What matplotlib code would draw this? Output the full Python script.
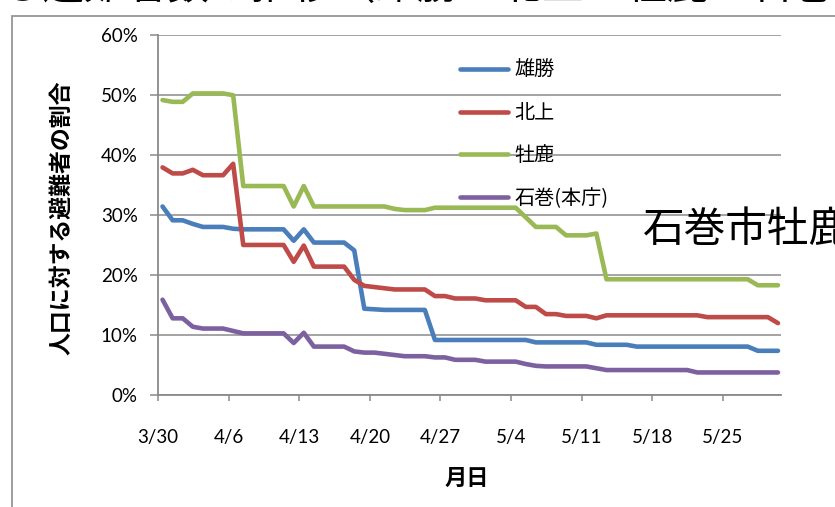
import numpy as np
import matplotlib
matplotlib.use('Agg')
import matplotlib.pyplot as plt
from matplotlib.ticker import FixedLocator, PercentFormatter
from matplotlib.patches import Rectangle

# ---------------- data ----------------
tick_days = [0, 7, 14, 21, 28, 35, 42, 49, 56]
tick_labels = ['3/30', '4/6', '4/13', '4/20', '4/27', '5/4', '5/11', '5/18', '5/25']
days = np.arange(62)  # daily from 3/30 to 5/30

ogatsu = [31.4, 29.1, 29.1, 28.5, 28.0, 28.0, 28.0, 27.7, 27.6, 27.6,
          27.6, 27.6, 27.6, 25.7, 27.6, 25.4, 25.4, 25.4, 25.4, 24.1,
          14.4, 14.3, 14.2, 14.2, 14.2, 14.2, 14.2, 9.2, 9.2, 9.2,
          9.2, 9.2, 9.2, 9.2, 9.2, 9.2, 9.2, 8.8, 8.8, 8.8,
          8.8, 8.8, 8.8, 8.4, 8.4, 8.4, 8.4, 8.1, 8.1, 8.1,
          8.1, 8.1, 8.1, 8.1, 8.1, 8.1, 8.1, 8.1, 8.1, 7.4,
          7.4, 7.4]
kitakami = [37.9, 36.9, 36.9, 37.5, 36.6, 36.6, 36.6, 38.5, 25.0, 25.0,
            25.0, 25.0, 25.0, 22.2, 24.9, 21.4, 21.4, 21.4, 21.4, 19.2,
            18.2, 18.0, 17.8, 17.6, 17.6, 17.6, 17.6, 16.5, 16.5, 16.1,
            16.1, 16.1, 15.8, 15.8, 15.8, 15.8, 14.7, 14.7, 13.5, 13.5,
            13.2, 13.2, 13.2, 12.8, 13.3, 13.3, 13.3, 13.3, 13.3, 13.3,
            13.3, 13.3, 13.3, 13.3, 13.0, 13.0, 13.0, 13.0, 13.0, 13.0,
            13.0, 12.0]
oshika = [49.1, 48.8, 48.8, 50.2, 50.2, 50.2, 50.2, 49.9, 34.8, 34.8,
          34.8, 34.8, 34.8, 31.4, 34.8, 31.4, 31.4, 31.4, 31.4, 31.4,
          31.4, 31.4, 31.4, 31.0, 30.8, 30.8, 30.8, 31.2, 31.2, 31.2,
          31.2, 31.2, 31.2, 31.2, 31.2, 31.2, 29.6, 28.0, 28.0, 28.0,
          26.6, 26.6, 26.6, 26.9, 19.3, 19.3, 19.3, 19.3, 19.3, 19.3,
          19.3, 19.3, 19.3, 19.3, 19.3, 19.3, 19.3, 19.3, 19.3, 18.3,
          18.3, 18.3]
honcho = [15.9, 12.8, 12.8, 11.4, 11.1, 11.1, 11.1, 10.7, 10.3, 10.3,
          10.3, 10.3, 10.3, 8.7, 10.4, 8.1, 8.1, 8.1, 8.1, 7.3,
          7.1, 7.1, 6.9, 6.7, 6.5, 6.5, 6.5, 6.3, 6.3, 5.9,
          5.9, 5.9, 5.6, 5.6, 5.6, 5.6, 5.2, 4.9, 4.8, 4.8,
          4.8, 4.8, 4.8, 4.5, 4.2, 4.2, 4.2, 4.2, 4.2, 4.2,
          4.2, 4.2, 4.2, 3.8, 3.8, 3.8, 3.8, 3.8, 3.8, 3.8,
          3.8, 3.8]

series_names = ['雄勝', '北上', '牡鹿', '石巻(本庁)']
series_values = [ogatsu, kitakami, oshika, honcho]
colors = ['#4A7EBB', '#BE4B48', '#98B954', '#7D60A0']

# ---------------- style ----------------
CJK = ['Noto Sans CJK JP', 'DejaVu Sans']
plt.rcParams['font.family'] = ['Lato', 'Noto Sans CJK JP', 'DejaVu Sans']
GRID = '#8a8a8a'

W, H = 835, 507
fig = plt.figure(figsize=(W / 100, H / 100), dpi=100)
fig.patch.set_facecolor('white')

x0, x1, ytop, ybot = 158, 781, 34.5, 395.3
ax = fig.add_axes([x0 / W, 1 - ybot / H, (x1 - x0) / W, (ybot - ytop) / H])

offset = 0.45
for name, vals, c in zip(series_names, series_values, colors):
    ax.plot(days + offset, vals, color=c, lw=3.3, label=name,
            solid_capstyle='round', solid_joinstyle='round', zorder=3)

ax.set_xlim(0, 61.75)
ax.set_ylim(0, 60)
ax.yaxis.set_major_locator(FixedLocator(np.arange(0, 61, 10)))
ax.yaxis.set_major_formatter(PercentFormatter(xmax=100, decimals=0))
ax.set_xticks(tick_days)
ax.set_xticklabels(tick_labels)

ax.grid(axis='y', color=GRID, lw=1.1, zorder=0)
ax.set_axisbelow(True)
for s in ['top', 'right']:
    ax.spines[s].set_visible(False)
for s in ['left', 'bottom']:
    ax.spines[s].set_color(GRID)
    ax.spines[s].set_linewidth(1.3)

ax.tick_params(axis='y', direction='out', length=5.5, width=1.1, color=GRID,
               labelsize=13.5, pad=9, labelcolor='black')
ax.tick_params(axis='x', direction='out', length=4, width=1.1, color=GRID,
               labelsize=13.5, pad=20, labelcolor='black')

ax.set_xlabel('月日', family=CJK, fontsize=16, fontweight='bold')
ax.xaxis.set_label_coords(0.496, -0.229)
ax.xaxis.label.set_va('center')
ax.set_ylabel('人口に対する避難者の割合', family=CJK, fontsize=16.5, fontweight='bold')
ax.yaxis.set_label_coords(-0.154, 0.492)
ax.yaxis.label.set_va('center')
ax.yaxis.label.set_ha('center')

leg = ax.legend(loc='upper left', bbox_to_anchor=(460 / W, 1 - 60 / H),
                bbox_transform=fig.transFigure, frameon=False,
                prop={'family': CJK, 'size': 14.5}, handlelength=2.4,
                handletextpad=0.3, labelspacing=1.08, borderaxespad=0,
                borderpad=0)
for line in leg.get_lines():
    line.set_linewidth(3.3)
    line.set_solid_capstyle('round')

# chart area border (extends beyond the screenshot)
fig.patches.append(Rectangle((12 / W, -0.1), 1.2, 1 - 16 / H + 0.1,
                             transform=fig.transFigure, fill=False,
                             edgecolor='#8c8c8c', lw=1.2, zorder=0))

# overlapping slide text
fig.text(643 / W, 1 - 230 / H, '石巻市牡鹿半島', family=CJK, fontsize=30,
         ha='left', va='center', color='black', zorder=5)

# title of the slide above (cropped at the top of the screenshot)
fig.text(0.5, 1 + 1 / H, 'に対する避難者数の推移（雄勝・北上・牡鹿・石巻本庁）',
         family=CJK, fontsize=30, ha='center', va='baseline', color='black')

fig.savefig('out.png', dpi=100, facecolor='white')
